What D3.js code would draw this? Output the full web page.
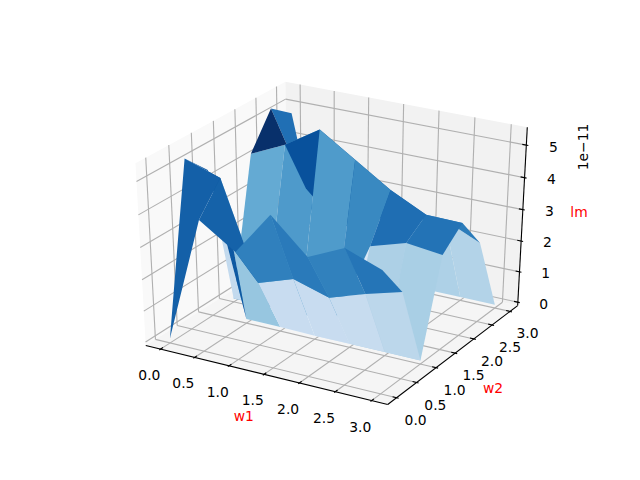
<!DOCTYPE html><html><head><meta charset="utf-8"><style>html,body{margin:0;background:#fff}svg{display:block}text{font-family:"DejaVu Sans";font-size:13.89px}</style>
<script src="https://d3js.org/d3.v7.min.js"></script></head><body><svg id="c" width="640" height="480"></svg>
<script>
// w1 and w2 grid; lm values are in units of 1e-11, one row per w2 value
const w1=[0,0.5,1,1.5,2,2.5,3];
const w2=[0,0.5,1,1.5,2,2.5,3];
const lm_w2_00=[0.03,4.00,3.27,4.62,3.60,4.11,3.70];
const lm_w2_05=[5.24,4.87,1.88,2.26,1.92,2.29,2.61];
const lm_w2_10=[4.51,0.02,0.02,0,0,0,0];
const lm_w2_15=[0,0,0,0,2.68,3.02,2.89];
const lm_w2_20=[4.26,4.75,5.43,4.72,4.02,3.48,3.46];
const lm_w2_25=[5.30,3.00,1.97,2.50,2.70,2.92,2.43];
const lm_w2_30=[4.80,0,0,0,0,0,0];
const lm=[lm_w2_00,lm_w2_05,lm_w2_10,lm_w2_15,lm_w2_20,lm_w2_25,lm_w2_30];
const xTicks=[0,0.5,1,1.5,2,2.5,3],yTicks=[0,0.5,1,1.5,2,2.5,3],zTicks=[0,1,2,3,4,5];
const xlim=[-0.15,3.15],ylim=[-0.15,3.15],zlim=[0,5.43];

const svg=d3.select('#c');
const az=-60*Math.PI/180,el=30*Math.PI/180,dist=10;
const sx=d3.scaleLinear().domain(xlim).range([0,1]),sy=d3.scaleLinear().domain(ylim).range([0,1]),sz=d3.scaleLinear().domain(zlim).range([0,1]);
const R=[.5,.5,.5],ps=[Math.cos(el)*Math.cos(az),Math.cos(el)*Math.sin(az),Math.sin(el)],E=R.map((r,i)=>r+dist*ps[i]);
const norm=a=>{const n=Math.hypot(...a);return a.map(v=>v/n)},cross=(a,b)=>[a[1]*b[2]-a[2]*b[1],a[2]*b[0]-a[0]*b[2],a[0]*b[1]-a[1]*b[0]],dot=(a,b)=>a[0]*b[0]+a[1]*b[1]+a[2]*b[2];
const w=norm(ps),u=norm(cross([0,0,1],w)),v=cross(w,u);
const px=d3.scaleLinear().domain([-0.095,0.09]).range([80,576]),py=d3.scaleLinear().domain([-0.095,0.09]).range([427.2,57.6]);
function P(x,y,z){const p=[sx(x),sy(y),sz(z)].map((c,i)=>c-E[i]);const d=-dot(p,w);return [px(dot(p,u)/d),py(dot(p,v)/d),d];}
const g=svg.append('g');
function line(a,b,c,wd){const p=P(...a),q=P(...b);g.append('line').attr('x1',p[0]).attr('y1',p[1]).attr('x2',q[0]).attr('y2',q[1]).attr('stroke',c).attr('stroke-width',wd);}
function poly(pts,f){g.append('polygon').attr('points',pts.map(p=>P(...p).slice(0,2).join(',')).join(' ')).attr('fill',f);}
function label(pos,t,c,ox,oy){const p=P(...pos);g.append('text').attr('x',p[0]+(ox||0)).attr('y',p[1]+(oy||0)).attr('text-anchor','middle').attr('dominant-baseline','central').attr('fill',c||'#000').text(t);}
const rx=xlim[1]-xlim[0],ry=ylim[1]-ylim[0],rz=zlim[1]-zlim[0];
const dx=rx/48,dy=ry/48,dz=rz/48;
const x0=xlim[0]-dx,x1=xlim[1]+dx,y0=ylim[0]-dy,y1=ylim[1]+dy,z0=zlim[0]-dz,z1=zlim[1]+dz;
poly([[x0,y0,z0],[x0,y1,z0],[x0,y1,z1],[x0,y0,z1]],'#f9f9f9');
poly([[x0,y1,z0],[x1,y1,z0],[x1,y1,z1],[x0,y1,z1]],'#f2f2f2');
poly([[x0,y0,z0],[x1,y0,z0],[x1,y1,z0],[x0,y1,z0]],'#f5f5f5');
const gc='#b0b0b0',lw=1.11;
xTicks.forEach(t=>{line([t,y0,z0],[t,y1,z0],gc,lw);line([t,y1,z0],[t,y1,z1],gc,lw);});
yTicks.forEach(t=>{line([x0,t,z0],[x1,t,z0],gc,lw);line([x0,t,z0],[x0,t,z1],gc,lw);});
zTicks.forEach(t=>{line([x0,y0,t],[x0,y1,t],gc,lw);line([x0,y1,t],[x1,y1,t],gc,lw);});
line([x0,y0,z0],[x1,y0,z0],'#000',lw);line([x1,y0,z0],[x1,y1,z0],'#000',lw);line([x1,y1,z0],[x1,y1,z1],'#000',lw);
const tx=rx/12,ty=ry/12;
xTicks.forEach(t=>{line([t,y0-.1*ty,z0],[t,y0+.2*ty,z0],'#000',lw);label([t,y0-.082*ry,z0-.104*rz],t.toFixed(1),null,0,.5);});
yTicks.forEach(t=>{line([x1+.1*tx,t,z0],[x1-.2*tx,t,z0],'#000',lw);label([x1+.08*rx,t,z0-.10*rz],t.toFixed(1),null,0,1);});
zTicks.forEach(t=>{line([x1+.1*tx,y1,t],[x1-.2*tx,y1,t],'#000',lw);label([x1+.072*rx,y1+.072*ry,t],String(t),null,1,4);});
label([1.5,y0-.18*ry,z0-.13*rz],'w1','#f00',5,2);
label([x1+.16*rx,1.5,z0-.17*rz],'w2','#f00',1,-2);
label([x1+.155*rx,y1+.155*ry,2.7],'lm','#f00',2,-2);
// surface
const faces=[];
for(let j=0;j<w2.length-1;j++)for(let i=0;i<w1.length-1;i++){
  const pts=[[w1[i],w2[j],lm[j][i]],[w1[i+1],w2[j],lm[j][i+1]],[w1[i+1],w2[j+1],lm[j+1][i+1]],[w1[i],w2[j+1],lm[j+1][i]]];
  faces.push({pts,avg:d3.mean(pts,p=>p[2]),depth:d3.mean(pts,p=>P(...p)[2])});
}
const col=d3.scaleLinear().domain(d3.extent(faces,f=>f.avg)).range([0,1]),cm=d3.piecewise(d3.interpolateRgb,d3.schemeBlues[9]);
faces.sort((a,b)=>b.depth-a.depth);
faces.forEach(f=>poly(f.pts,cm(col(f.avg))));
g.append('text').attr('transform','translate(583,147) rotate(-90)').attr('text-anchor','middle').attr('dominant-baseline','central').text('1e\u221211');
</script></body></html>
